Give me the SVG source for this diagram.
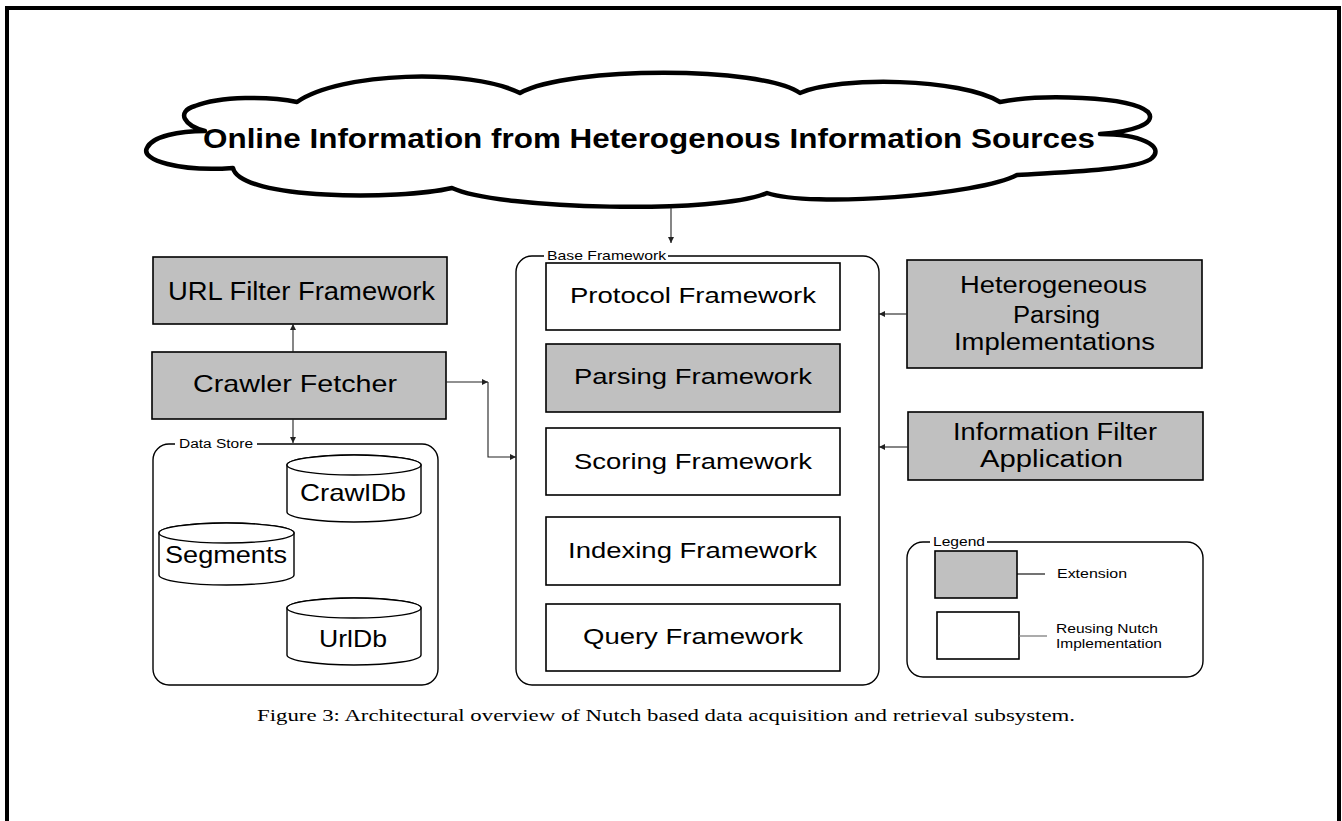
<svg xmlns="http://www.w3.org/2000/svg" width="1342" height="821" viewBox="0 0 1342 821">
<style>
.box{stroke:#000;stroke-width:1.6}
.ext{fill:#c0c0c0}
.reuse{fill:#fff}
.cont{fill:none;stroke:#000;stroke-width:1.4}
.lbl{font-family:"Liberation Sans",Arial,sans-serif;fill:#000}
.big{font-size:23px}
.small{font-size:12.5px}
.db{fill:#fff;stroke:#000;stroke-width:1.4}
.conn{fill:none;stroke:#222;stroke-width:1.1}
</style>
<defs>
<marker id="ah" markerWidth="6" markerHeight="6" refX="6" refY="3" orient="auto" markerUnits="userSpaceOnUse">
<path d="M0,0 L6,3 L0,6 z" fill="#222"/>
</marker>
</defs>
<rect x="0" y="0" width="1342" height="821" fill="#fff"/>
<rect x="7" y="8" width="1332" height="830" fill="none" stroke="#000" stroke-width="4"/>

<g id="cloud">
<path d="M297,102 C340,72 470,68 520,93 C570,66 760,66 800,93 C840,76 960,78 1000,102 C1040,94 1130,96 1148,112 C1158,124 1130,132 1100,134 C1140,134 1165,146 1152,158 C1140,170 1060,172 1017,175 C980,195 810,208 767,193 C720,214 500,210 452,188 C400,200 240,200 233,168 C180,172 140,160 147,148 C152,136 180,131 205,131 C185,126 175,112 195,106 C220,96 270,96 297,102 Z" fill="#fff" stroke="#000" stroke-width="4.5" stroke-linejoin="round"/>
<text class="lbl" x="203" y="148" font-size="28" font-weight="bold" textLength="892" lengthAdjust="spacingAndGlyphs">Online Information from Heterogenous Information Sources</text>
</g>

<g id="url-filter">
<rect class="box ext" x="153" y="257" width="294" height="67"/>
<text class="lbl" x="168" y="300" font-size="25" textLength="267" lengthAdjust="spacingAndGlyphs">URL Filter Framework</text>
</g>

<g id="crawler-fetcher">
<rect class="box ext" x="152" y="352" width="294" height="67"/>
<text class="lbl" x="193" y="392" font-size="24" textLength="204" lengthAdjust="spacingAndGlyphs">Crawler Fetcher</text>
</g>

<g id="data-store">
<rect class="cont" x="153" y="444" width="285" height="241" rx="16"/>
<rect x="175" y="438" width="82" height="12" fill="#fff"/>
<text class="lbl" x="179" y="448" font-size="12" textLength="74" lengthAdjust="spacingAndGlyphs">Data Store</text>
</g>

<g id="crawldb">
<path class="db" d="M287,465 L287,512 A67,10 0 0 0 421,512 L421,465 A67,10 0 0 0 287,465 Z"/>
<ellipse class="db" cx="354" cy="465" rx="67" ry="10"/>
<text class="lbl" x="300" y="501" font-size="24" textLength="106" lengthAdjust="spacingAndGlyphs">CrawlDb</text>
</g>

<g id="segments">
<path class="db" d="M159,533 L159,575 A67.5,10 0 0 0 294,575 L294,533 A67.5,10 0 0 0 159,533 Z"/>
<ellipse class="db" cx="226.5" cy="533" rx="67.5" ry="10"/>
<text class="lbl" x="165" y="563" font-size="24" textLength="122" lengthAdjust="spacingAndGlyphs">Segments</text>
</g>

<g id="urldb">
<path class="db" d="M287,608 L287,655 A67,10 0 0 0 421,655 L421,608 A67,10 0 0 0 287,608 Z"/>
<ellipse class="db" cx="354" cy="608" rx="67" ry="10"/>
<text class="lbl" x="319" y="647" font-size="24" textLength="68" lengthAdjust="spacingAndGlyphs">UrlDb</text>
</g>

<g id="base-framework">
<rect class="cont" x="516" y="256" width="363" height="429" rx="16"/>
<rect x="544" y="249" width="124" height="12" fill="#fff"/>
<text class="lbl" x="547" y="260" font-size="13" textLength="119" lengthAdjust="spacingAndGlyphs">Base Framework</text>
</g>

<g id="protocol">
<rect class="box reuse" x="546" y="263" width="294" height="67"/>
<text class="lbl" x="570" y="303" font-size="22" textLength="246" lengthAdjust="spacingAndGlyphs">Protocol Framework</text>
</g>
<g id="parsing">
<rect class="box ext" x="546" y="344" width="294" height="68"/>
<text class="lbl" x="574" y="384" font-size="22" textLength="238" lengthAdjust="spacingAndGlyphs">Parsing Framework</text>
</g>
<g id="scoring">
<rect class="box reuse" x="546" y="428" width="294" height="67"/>
<text class="lbl" x="574" y="469" font-size="22" textLength="238" lengthAdjust="spacingAndGlyphs">Scoring Framework</text>
</g>
<g id="indexing">
<rect class="box reuse" x="546" y="517" width="294" height="68"/>
<text class="lbl" x="568" y="558" font-size="22" textLength="249" lengthAdjust="spacingAndGlyphs">Indexing Framework</text>
</g>
<g id="query">
<rect class="box reuse" x="546" y="604" width="294" height="67"/>
<text class="lbl" x="583" y="644" font-size="22" textLength="220" lengthAdjust="spacingAndGlyphs">Query Framework</text>
</g>

<g id="heterogeneous-parsing">
<rect class="box ext" x="907" y="260" width="295" height="108"/>
<text class="lbl" x="960" y="293" font-size="23" textLength="187" lengthAdjust="spacingAndGlyphs">Heterogeneous</text>
<text class="lbl" x="1013" y="323" font-size="23" textLength="87" lengthAdjust="spacingAndGlyphs">Parsing</text>
<text class="lbl" x="954" y="350" font-size="23" textLength="201" lengthAdjust="spacingAndGlyphs">Implementations</text>
</g>

<g id="information-filter">
<rect class="box ext" x="908" y="412" width="295" height="68"/>
<text class="lbl" x="953" y="440" font-size="23" textLength="204" lengthAdjust="spacingAndGlyphs">Information Filter</text>
<text class="lbl" x="980" y="467" font-size="23" textLength="143" lengthAdjust="spacingAndGlyphs">Application</text>
</g>

<g id="legend">
<rect class="cont" x="907" y="542" width="296" height="135" rx="16"/>
<rect x="930" y="536" width="57" height="12" fill="#fff"/>
<text class="lbl" x="933" y="546" font-size="13" textLength="52" lengthAdjust="spacingAndGlyphs">Legend</text>
<rect class="box ext" x="935" y="551" width="82" height="47"/>
<line x1="1017" y1="574" x2="1045" y2="574" stroke="#000" stroke-width="1.1"/>
<text class="lbl" x="1057" y="578" font-size="13" textLength="70" lengthAdjust="spacingAndGlyphs">Extension</text>
<rect class="box reuse" x="937" y="612" width="82" height="47"/>
<line x1="1019" y1="636" x2="1047" y2="636" stroke="#666" stroke-width="1.1"/>
<text class="lbl" x="1056" y="633" font-size="13" textLength="102" lengthAdjust="spacingAndGlyphs">Reusing Nutch</text>
<text class="lbl" x="1056" y="648" font-size="13" textLength="106" lengthAdjust="spacingAndGlyphs">Implementation</text>
</g>

<g id="connectors">
<line class="conn" x1="671" y1="208" x2="671" y2="243" marker-end="url(#ah)"/>
<line class="conn" x1="293" y1="352" x2="293" y2="324" marker-end="url(#ah)"/>
<line class="conn" x1="293" y1="419" x2="293" y2="443" marker-end="url(#ah)"/>
<line class="conn" x1="446" y1="382" x2="488" y2="382" marker-end="url(#ah)"/>
<polyline class="conn" points="488,382 488,457 516,457" marker-end="url(#ah)"/>
<line class="conn" x1="907" y1="314" x2="879" y2="314" marker-end="url(#ah)"/>
<line class="conn" x1="908" y1="447" x2="879" y2="447" marker-end="url(#ah)"/>
</g>

<text x="257" y="721" font-family="'Liberation Serif','Times New Roman',serif" font-size="17" textLength="818" lengthAdjust="spacingAndGlyphs" fill="#000">Figure 3: Architectural overview of Nutch based data acquisition and retrieval subsystem.</text>
</svg>
